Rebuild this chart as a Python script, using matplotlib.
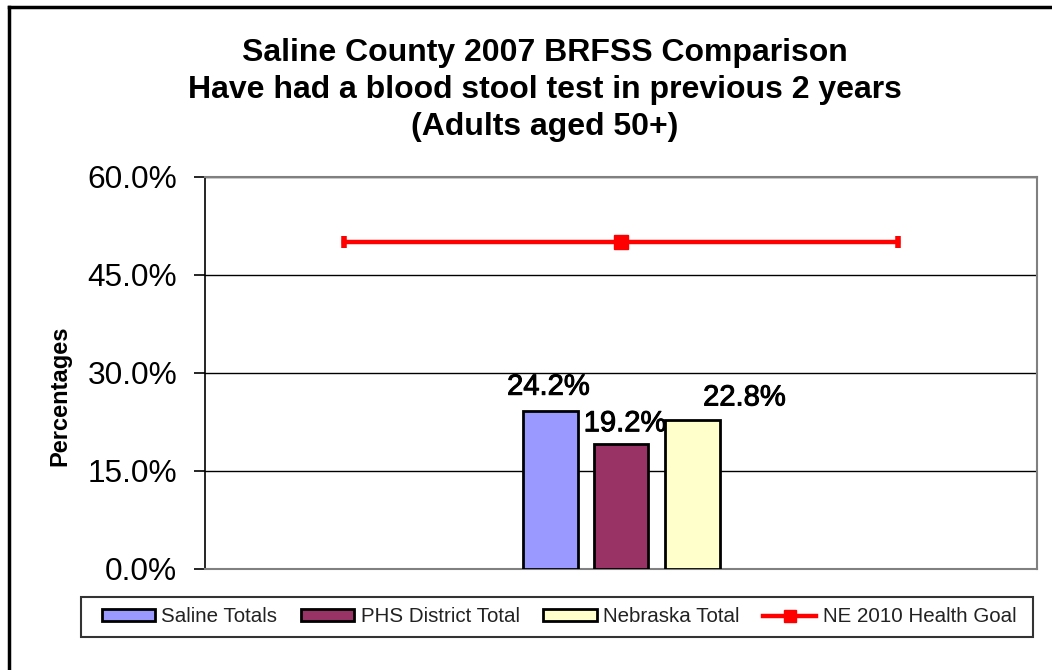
import matplotlib.pyplot as plt
import matplotlib.patheffects as pe
from matplotlib.patches import Rectangle
from matplotlib.lines import Line2D

plt.rcParams['font.family'] = ['Liberation Sans', 'DejaVu Sans']

# data
series = ['Saline Totals', 'PHS District Total', 'Nebraska Total']
values = [24.2, 19.2, 22.8]
colors = ['#9999FF', '#993366', '#FFFFCC']
goal_label = 'NE 2010 Health Goal'
goal_value = 50.0
yticks = [0, 15, 30, 45, 60]

title = ('Saline County 2007 BRFSS Comparison\n'
         'Have had a blood stool test in previous 2 years\n'
         '(Adults aged 50+)')

W, H = 1052, 670
fig = plt.figure(figsize=(W / 100, H / 100), dpi=100)
ax = fig.add_axes([205 / W, 1 - 569 / H, 832 / W, 392 / H])

# clustered bars around a single category
offsets = [-0.253, 0.0, 0.257]
bar_w = 0.198
for off, v, c in zip(offsets, values, colors):
    ax.bar(off, v, width=bar_w, color=c, edgecolor='black', linewidth=2, zorder=3)

# value labels (placed by hand like the original sheet), slightly heavier stroke
label_pos = [(-0.262, 3.7), (0.014, 3.1), (0.445, 3.45)]
for (dx, dy), v in zip(label_pos, values):
    ax.text(dx, v + dy, f'{v:.1f}%', ha='center', va='center',
            fontsize=21, color='black', zorder=2,
            path_effects=[pe.withStroke(linewidth=0.7, foreground='black')])

# goal line
gx = [-1.0, 0.0, 1.0]
gy = [goal_value] * 3
ax.plot(gx, gy, color='#FF0000', linewidth=3.2, zorder=4)
ax.plot(gx[1], gy[1], marker='s', markersize=10.5, color='#FF0000', zorder=5)
ax.plot([gx[0], gx[2]], [gy[0], gy[2]], linestyle='none', marker='|',
        markersize=9, markeredgewidth=4, color='#FF0000', zorder=5)

ax.set_xlim(-1.5, 1.5)
ax.set_ylim(0, 60)
ax.set_yticks(yticks)
ax.set_yticklabels([f'{t:.1f}%' for t in yticks], fontsize=22.8)
ax.set_xticks([])
ax.tick_params(axis='y', direction='out', length=8, width=1.2, pad=12, colors='black')
ax.yaxis.grid(True, color='black', linewidth=1)
ax.set_axisbelow(True)
for side in ['top', 'right', 'bottom']:
    ax.spines[side].set_color('#808080')
    ax.spines[side].set_linewidth(1.5)
ax.spines['left'].set_color('black')
ax.spines['left'].set_linewidth(1.2)

ax.set_ylabel('Percentages', fontsize=17, fontweight='bold', labelpad=0)
ax.yaxis.set_label_coords(-134 / 832, 0.443)

fig.text(545 / W, 1 - 90 / H, title, ha='center', va='center',
         fontsize=23, fontweight='bold', linespacing=1.3)

# legend, with its box drawn separately
handles = [Rectangle((0, 0), 1, 1, facecolor=c, edgecolor='black', linewidth=2)
           for c in colors]
handles.append(Line2D([0], [0], color='#FF0000', linewidth=3.2, marker='s',
                      markersize=8))
leg = fig.legend(handles, series + [goal_label], loc='center',
                 bbox_to_anchor=(559 / W, 1 - 617 / H), ncol=4,
                 fontsize=14.8, frameon=False, handlelength=2.6,
                 handleheight=0.5, handletextpad=0.3, columnspacing=1.15,
                 borderpad=0, borderaxespad=0)
for t in leg.get_texts():
    t.set_color('#222222')
fig.add_artist(Rectangle((81 / W, 1 - 637 / H), 952 / W, 40 / H,
                         transform=fig.transFigure, facecolor='none',
                         edgecolor='#333333', linewidth=1.5))

# outer chart frame (only left and top edges fall inside the image)
fig.add_artist(Line2D([9 / W, 9 / W], [0, 1 - 6.5 / H],
                      transform=fig.transFigure, color='black', linewidth=2.5))
fig.add_artist(Line2D([9 / W, 1], [1 - 6.5 / H, 1 - 6.5 / H],
                      transform=fig.transFigure, color='black', linewidth=2.5))

fig.savefig('out.png', dpi=100, facecolor='white')
